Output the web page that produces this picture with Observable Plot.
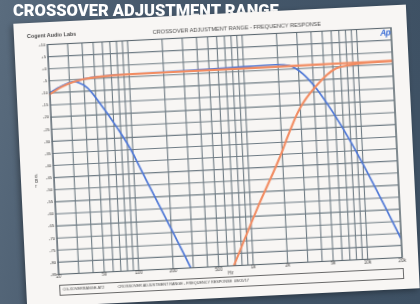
<!DOCTYPE html>
<html><head><meta charset="utf-8">
<script src="https://cdn.jsdelivr.net/npm/d3@7"></script>
<script src="https://cdn.jsdelivr.net/npm/@observablehq/plot@0.6"></script>
<style>
html,body{margin:0;padding:0;}
body{width:420px;height:304px;overflow:hidden;position:relative;
  background:linear-gradient(100deg,#5a6c7e 0%,#47596c 30%,#3d5063 100%);
  font-family:"Liberation Sans",Arial,sans-serif;}
#heading{position:absolute;left:13px;top:0px;color:#fff;font-family:Roboto,"Liberation Sans",sans-serif;
  font-weight:900;font-size:17px;white-space:nowrap;transform:scaleX(0.97);transform-origin:0 0;filter:blur(0.3px);}
#paper{position:absolute;left:20px;top:13.5px;width:393px;height:284px;background:#f8f6f4;
  transform:rotate(-2.8deg);transform-origin:50% 50%;box-shadow:-2px 2px 6px rgba(0,0,0,0.35);filter:blur(0.35px);}
#chart{position:absolute;left:0;top:0;}
.t{position:absolute;white-space:nowrap;color:#4a4a4a;}
#company{left:13px;top:10px;font-size:5.4px;font-weight:bold;}
#title{left:223px;top:11.5px;font-size:5.6px;transform:translateX(-50%);}
#ap{left:366px;top:21.5px;font-size:8.5px;font-weight:bold;font-style:italic;color:#3d6fd6;letter-spacing:-0.6px;}
#footer{position:absolute;left:32.6px;top:262.5px;width:343px;height:9px;border:0.8px solid #6a6a6a;}
#f1{left:3px;top:2.6px;font-size:3.8px;}
#f2{left:58px;top:2.6px;font-size:3.8px;}
</style></head>
<body>
<div id="heading">CROSSOVER ADJUSTMENT RANGE</div>
<div id="paper">
  <div id="chart"></div>
  <div class="t" id="company">Cogent Audio Labs</div>
  <div class="t" id="title">CROSSOVER ADJUSTMENT RANGE - FREQUENCY RESPONSE</div>
  <div class="t" id="ap">Ap</div>
  <div id="footer"><div class="t" id="f1">CG-XOVERRANGE.AT2</div><div class="t" id="f2">CROSSOVER ADJUSTMENT RANGE - FREQUENCY RESPONSE&nbsp;&nbsp;08/05/17</div></div>
</div>
<script>
// X tick labels
const xTickValues = [20, 50, 100, 200, 500, 1000, 2000, 5000, 10000, 20000];
const xTickLabels = ["20", "50", "100", "200", "500", "1k", "2k", "5k", "10k", "20k"];
// Log grid frequencies
const gridFreqs = [20,30,40,50,60,70,80,90,100,200,300,400,500,600,700,800,900,1000,2000,3000,4000,5000,6000,7000,8000,9000,10000,20000];
// dB ticks
const dbTicks = [10,5,0,-5,-10,-15,-20,-25,-30,-35,-40,-45,-50,-55,-60,-65,-70,-75,-80,-85];

// Low-pass, lowest setting (blue)
const lpLowFreq = [20, 24, 28, 32.4, 36, 42.7, 54.5, 74.6, 100.3, 113.7, 136.8, 281, 330];
const lpLowDb   = [-10, -8, -6.6, -5.8, -6.3, -8.6, -15.5, -25.7, -36.8, -42.7, -51.2, -84.3, -92];
// Low-pass, highest setting (blue)
const lpHighFreq = [20, 25, 32, 40, 55, 100, 300, 700, 1000, 1500, 2000, 2518, 3247, 4229, 5702, 7499, 20000];
const lpHighDb   = [-10.2, -7.7, -5.9, -4.9, -4.2, -3.8, -3.6, -3.3, -3.1, -2.9, -2.9, -3.6, -7.1, -13.6, -23.4, -33.7, -77.4];
// High-pass, lowest setting (orange)
const hpLowFreq = [20, 25, 32, 40, 55, 100, 1000, 5000, 20000];
const hpLowDb   = [-10.5, -7.9, -6.0, -5.0, -4.3, -3.9, -3.8, -3.7, -3.6];
// High-pass, highest setting (orange)
const hpHighFreq = [600, 678, 1164, 2030, 2211, 2954, 4248, 6427, 8370, 12000, 20000];
const hpHighDb   = [-90.5, -85, -61.2, -38, -33.9, -21.6, -12.3, -5.6, -4.5, -3.9, -3.7];

const blue = "#4f78d6", orange = "#f28c62";
const toRows = (fs, ds) => fs.map((f, i) => ({f, db: ds[i]}));
const xTickRows = xTickValues.map((v, i) => ({v, label: xTickLabels[i]}));

const chart = Plot.plot({
  width: 393, height: 265,
  marginLeft: 32.6, marginRight: 16.5, marginTop: 22, marginBottom: 13,
  x: {type: "log", domain: [20, 20000], axis: null},
  y: {domain: [-85, 10], axis: null},
  style: {background: "transparent", fontFamily: "'Liberation Sans', Arial, sans-serif", color: "#444"},
  marks: [
    Plot.ruleX(gridFreqs, {x: d => d, stroke: "#6f7c85", strokeWidth: 1.1}),
    Plot.ruleY(dbTicks, {y: d => d, stroke: "#6f7c85", strokeWidth: 1.1}),
    Plot.line(toRows(lpHighFreq, lpHighDb), {x: "f", y: "db", stroke: blue, strokeWidth: 1.7, curve: "monotone-x", clip: true}),
    Plot.line(toRows(lpLowFreq, lpLowDb), {x: "f", y: "db", stroke: blue, strokeWidth: 1.7, curve: "monotone-x", clip: true}),
    Plot.line(toRows(hpLowFreq, hpLowDb), {x: "f", y: "db", stroke: orange, strokeWidth: 2.1, curve: "monotone-x", clip: true}),
    Plot.line(toRows(hpHighFreq, hpHighDb), {x: "f", y: "db", stroke: orange, strokeWidth: 2.1, curve: "monotone-x", clip: true}),
    Plot.frame({stroke: "#5c6870", strokeWidth: 1.1}),
    Plot.text(xTickRows, {x: "v", text: "label", frameAnchor: "bottom", dy: 4, fontSize: 4.5, fill: "#444"}),
    Plot.text(dbTicks, {y: d => d, text: d => d > 0 ? "+" + d : d === 0 ? "+0" : String(d), frameAnchor: "left", dx: -2, textAnchor: "end", fontSize: 4.2, fill: "#444"}),
    Plot.text(["Hz"], {frameAnchor: "bottom", dy: 9, fontSize: 4.5, fill: "#444"}),
    Plot.text(["d\nB\nr"], {frameAnchor: "left", dx: -19, dy: 21, fontSize: 4.5, lineHeight: 1.1, fill: "#444"})
  ]
});
document.getElementById("chart").appendChild(chart);
</script>
</body></html>
